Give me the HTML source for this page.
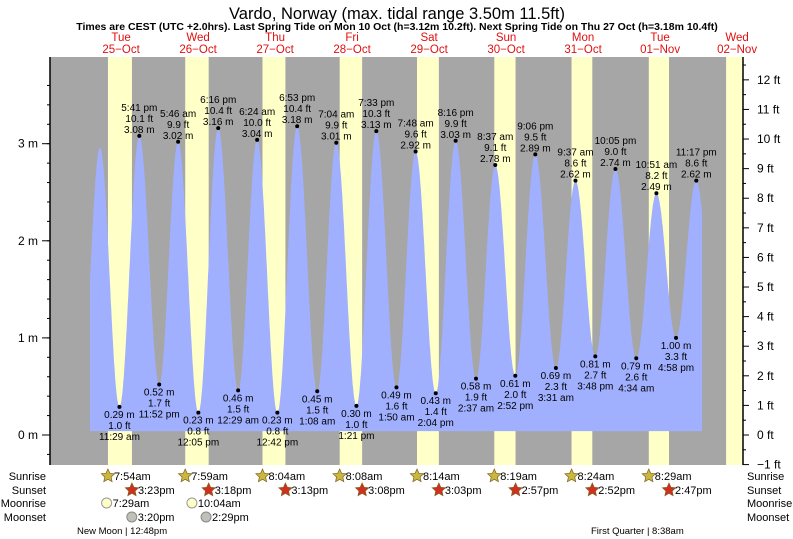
<!DOCTYPE html>
<html><head><meta charset="utf-8"><style>
body{margin:0;background:#fff}
svg{display:block;font-family:"Liberation Sans",sans-serif}
</style></head><body>
<svg id="chart" width="793" height="539" viewBox="0 0 793 539">
<rect x="0" y="0" width="793" height="539" fill="#fff"/>
<text x="397" y="19" font-size="16.5" text-anchor="middle" fill="#000">Vardo, Norway (max. tidal range 3.50m 11.5ft)</text>
<text x="397" y="30" font-size="10.5" font-weight="bold" text-anchor="middle" fill="#000">Times are CEST (UTC +2.0hrs). Last Spring Tide on Mon 10 Oct (h=3.12m 10.2ft). Next Spring Tide on Thu 27 Oct (h=3.18m 10.4ft)</text>
<g id="bg"></g>
<g id="tide"></g>
<g id="labels" font-size="10" fill="#000"></g>
<g id="axes" font-size="12"></g>
<g id="days" font-size="11.5" fill="#e01010"></g>
<g id="astro" font-size="11"></g>
</svg>
<script>
const dayNames = ["Tue","Wed","Thu","Fri","Sat","Sun","Mon","Tue","Wed"];
const dayDates = ["25\u2212Oct","26\u2212Oct","27\u2212Oct","28\u2212Oct","29\u2212Oct","30\u2212Oct","31\u2212Oct","01\u2212Nov","02\u2212Nov"];
const sunriseH = [7.9,7.98,8.07,8.13,8.23,8.32,8.4,8.48,8.57];
const sunsetH = [15.38,15.3,15.22,15.13,15.05,14.95,14.87,14.78,14.7];
const sunriseTxt = ["7:54am","7:59am","8:04am","8:08am","8:14am","8:19am","8:24am","8:29am"];
const sunsetTxt = ["3:23pm","3:18pm","3:13pm","3:08pm","3:03pm","2:57pm","2:52pm","2:47pm"];
const tideHours = [-0.7,5.4,11.48,17.68,23.87,29.77,36.08,42.27,48.48,54.4,60.7,66.88,73.13,79.07,85.35,91.55,97.83,103.8,110.07,116.27,122.62,128.62,134.87,141.1,147.52,153.62,159.8,166.08,172.57,178.85,184.97,191.28,197.5];
const tideM = [0.3,2.96,0.29,3.08,0.52,3.02,0.23,3.16,0.46,3.04,0.23,3.18,0.45,3.01,0.30,3.13,0.49,2.92,0.43,3.03,0.58,2.78,0.61,2.89,0.69,2.62,0.81,2.74,0.79,2.49,1.00,2.62,0.9];
const tideFt = ["","","1.0","10.1","1.7","9.9","0.8","10.4","1.5","10.0","0.8","10.4","1.5","9.9","1.0","10.3","1.6","9.6","1.4","9.9","1.9","9.1","2.0","9.5","2.3","8.6","2.7","9.0","2.6","8.2","3.3","8.6",""];
const tideTxt = ["","","11:29 am","5:41 pm","11:52 pm","5:46 am","12:05 pm","6:16 pm","12:29 am","6:24 am","12:42 pm","6:53 pm","1:08 am","7:04 am","1:21 pm","7:33 pm","1:50 am","7:48 am","2:04 pm","8:16 pm","2:37 am","8:37 am","2:52 pm","9:06 pm","3:31 am","9:37 am","3:48 pm","10:05 pm","4:34 am","10:51 am","4:58 pm","11:17 pm",""];
const mTicks = [0,1,2,3];
const ftTicks = [-1,0,1,2,3,4,5,6,7,8,9,10,11,12];

const NS="http://www.w3.org/2000/svg";
const X0=82.6, PXD=77, Y0=435, PXM=97.1, TOP=57, BOT=465, LEFT=50, RIGHT=743;
const xs=h=>X0+h/24*PXD;
const ys=m=>Y0-m*PXM;
function mk(parent,tag,attrs,text){const e=document.createElementNS(NS,tag);for(const k in attrs)e.setAttribute(k,attrs[k]);if(text!==undefined)e.textContent=text;document.getElementById(parent).appendChild(e);return e;}

let e=mk('bg','rect',{x:LEFT,y:TOP,width:RIGHT-LEFT,height:BOT-TOP,fill:'#a6a6a6'});


for(let d=0;d<9;d++){
  const x1=xs(d*24+sunriseH[d]); const x2=Math.min(d<8?xs(d*24+sunsetH[d]):RIGHT,RIGHT);
  e=mk('bg','rect',{x:x1,y:TOP,width:(d<8?x2:RIGHT)-x1,height:BOT-TOP,fill:'#ffffc8'});
  
  
}
function level(h){
  for(let i=0;i<tideHours.length-1;i++){
    if(h>=tideHours[i]&&h<=tideHours[i+1]){
      const f=(h-tideHours[i])/(tideHours[i+1]-tideHours[i]);
      return tideM[i]+(tideM[i+1]-tideM[i])*(1-Math.cos(Math.PI*f))/2;
    }
  }
  return 0;
}
const hStart=2.3,hEnd=193.1;
let pts=[];
for(let h=hStart;h<=hEnd;h+=0.1)pts.push(xs(h).toFixed(1)+','+ys(level(h)).toFixed(1));
pts.push(xs(hEnd).toFixed(1)+','+ys(level(hEnd)).toFixed(1));
pts.push(xs(hEnd).toFixed(1)+','+ys(0.04));
pts.push(xs(hStart).toFixed(1)+','+ys(0.04));
e=mk('tide','polygon',{points:pts.join(' '),fill:'#a0b0ff'});


for(let i=2;i<tideHours.length-1;i++){
  const x=xs(tideHours[i]),y=ys(tideM[i]);
  e=mk('labels','circle',{cx:x,cy:y,r:2,fill:'#000'});
  
  
  const high=tideM[i]>tideM[i-1];
  const lines=high?[tideTxt[i],tideFt[i]+' ft',tideM[i].toFixed(2)+' m']:[tideM[i].toFixed(2)+' m',tideFt[i]+' ft',tideTxt[i]];
  const base=high?y-25:y+11;
  lines.forEach((t,j)=>{
    e=mk('labels','text',{x:x,y:base+j*11,'text-anchor':'middle'},t);
    
    
  });
}
e=mk('axes','line',{x1:LEFT,y1:TOP,x2:LEFT,y2:BOT,stroke:'#000','stroke-width':1.5});


e=mk('axes','line',{x1:RIGHT,y1:TOP,x2:RIGHT,y2:BOT,stroke:'#000','stroke-width':1.5});


for(let v=-0.2;v<=3.8;v+=0.2){
  const y=ys(v); if(y<TOP||y>BOT)continue;
  mk('axes','line',{x1:LEFT-3,y1:y,x2:LEFT,y2:y,stroke:'#000'});
}
mTicks.forEach(v=>{
  const y=ys(v);
  mk('axes','line',{x1:LEFT-8,y1:y,x2:LEFT,y2:y,stroke:'#000'});
  e=mk('axes','text',{x:LEFT-12,y:y+4,'text-anchor':'end'},v+' m');
  
  
});
for(let f=-1;f<=12.5;f+=0.5){
  const y=ys(f*0.3048); if(y<TOP)continue;
  mk('axes','line',{x1:RIGHT,y1:y,x2:RIGHT+(f%1===0?6:3),y2:y,stroke:'#000'});
}
ftTicks.forEach(f=>{
  const y=ys(f*0.3048);
  e=mk('axes','text',{x:757,y:y+4},(f<0?'\u2212'+(-f):f)+' ft');
  
  
});
dayNames.forEach((n,d)=>{
  const x=xs(d*24+12);
  e=mk('days','text',{x:x,y:41,'text-anchor':'middle'},n);
  
  
  e=mk('days','text',{x:x,y:53,'text-anchor':'middle'},dayDates[d]);
  
  
});
const rows=[['Sunrise',480],['Sunset',494],['Moonrise',507],['Moonset',521]];
rows.forEach(r=>{
  e=mk('astro','text',{x:46,y:r[1],'text-anchor':'end',fill:'#000'},r[0]);
  
  
  e=mk('astro','text',{x:747,y:r[1],fill:'#000'},r[0]);
  
  
});
function star(cx,cy,fill){
  let p=[];for(let k=0;k<10;k++){const a=-Math.PI/2+k*Math.PI/5,r=k%2?3.3:7;p.push((cx+r*Math.cos(a)).toFixed(1)+','+(cy+r*Math.sin(a)).toFixed(1));}
  return mk('astro','polygon',{points:p.join(' '),fill:fill,stroke:'#806020','stroke-width':0.7});
}
for(let d=0;d<8;d++){
  let x=xs(d*24+sunriseH[d]);
  e=star(x,476,'#c8b840');
  
  
  e=mk('astro','text',{x:x+6,y:480,fill:'#000'},sunriseTxt[d]);
  
  
  x=xs(d*24+sunsetH[d]);
  e=star(x,490,'#d03020');
  
  
  e=mk('astro','text',{x:x+6,y:494,fill:'#000'},sunsetTxt[d]);
  
  
}
[[7.48,'7:29am'],[34.07,'10:04am']].forEach(m=>{
  const x=xs(m[0]);
  e=mk('astro','circle',{cx:x,cy:503,r:5,fill:'#ffffc8',stroke:'#999'});
  
  
  e=mk('astro','text',{x:x+6,y:507,fill:'#000'},m[1]);
  
  
});
[[15.33,'3:20pm'],[38.48,'2:29pm']].forEach(m=>{
  const x=xs(m[0]);
  e=mk('astro','circle',{cx:x,cy:517,r:5,fill:'#c0c0b8',stroke:'#888'});
  
  
  e=mk('astro','text',{x:x+6,y:521,fill:'#000'},m[1]);
  
  
});
e=mk('astro','text',{x:77,y:534,'font-size':9.5,fill:'#000'},'New Moon | 12:48pm');


e=mk('astro','text',{x:591,y:534,'font-size':9.5,fill:'#000'},'First Quarter | 8:38am');


</script>
</body></html>
